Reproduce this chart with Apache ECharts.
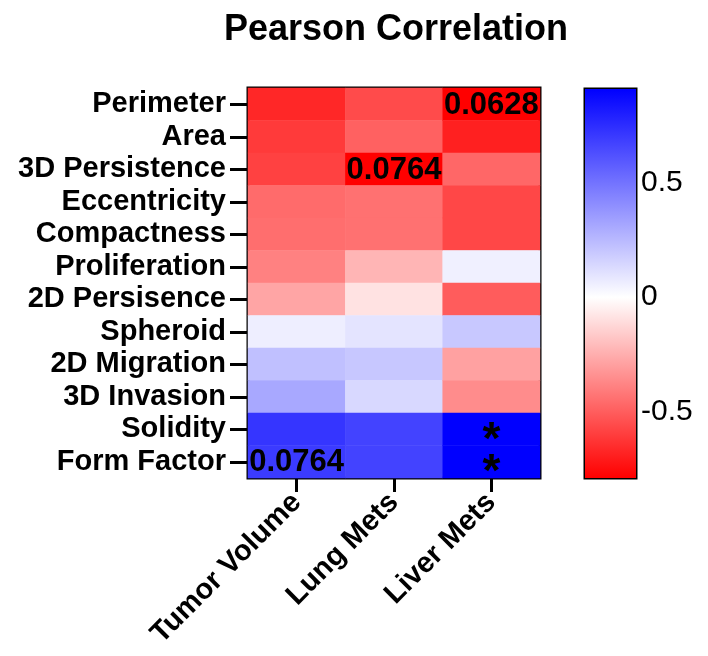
<!DOCTYPE html>
<html>
<head>
<meta charset="utf-8">
<script src="https://cdn.jsdelivr.net/npm/echarts@6/dist/echarts.min.js"></script>
<style>html,body{margin:0;padding:0;background:#fff}#c{width:708px;height:656px}</style>
</head>
<body>
<div id="c"></div>
<script>
// ---- data ----
const columns = ['Tumor Volume', 'Lung Mets', 'Liver Mets'];
const rows = ['Perimeter', 'Area', '3D Persistence', 'Eccentricity', 'Compactness', 'Proliferation',
  '2D Persisence', 'Spheroid', '2D Migration', '3D Invasion', 'Solidity', 'Form Factor'];
const tumorVolume = [-0.67, -0.61, -0.59, -0.46, -0.45, -0.39, -0.28, 0.06, 0.225, 0.31, 0.72, 0.70];
const lungMets    = [-0.555, -0.49, -0.79, -0.44, -0.44, -0.23, -0.09, 0.096, 0.20, 0.14, 0.67, 0.67];
const liverMets   = [-0.79, -0.69, -0.47, -0.57, -0.57, 0.054, -0.505, 0.196, -0.29, -0.356, 0.91, 0.91];
const annotations = [
  { col: 2, row: 0, text: '0.0628' },
  { col: 1, row: 2, text: '0.0764' },
  { col: 0, row: 11, text: '0.0764' },
  { col: 2, row: 10, text: '*' },
  { col: 2, row: 11, text: '*' }
];
const colorMin = -0.79, colorMax = 0.91;
const colorbarTicks = [-0.5, 0, 0.5];

// ---- build ----
const FONT = '"Liberation Sans", Arial, Helvetica, sans-serif';
function colorAt(v) {
  let r, g, b;
  if (v < 0) { const t = Math.min(1, -v / -colorMin); r = 255; g = b = Math.round(255 * (1 - t)); }
  else { const t = Math.min(1, v / colorMax); r = g = Math.round(255 * (1 - t)); b = 255; }
  return 'rgb(' + r + ',' + g + ',' + b + ')';
}
const stops = [];
const nStops = Math.round((colorMax - colorMin) / 0.01);
for (let i = 0; i <= nStops; i++) stops.push(colorAt(colorMin + (colorMax - colorMin) * i / nStops));

const cols = [tumorVolume, lungMets, liverMets];
const heatData = [];
cols.forEach((arr, c) => arr.forEach((v, r) => {
  const ann = annotations.find(a => a.col === c && a.row === r);
  const item = { value: [c, r, v] };
  if (ann) {
    const star = ann.text === '*';
    item.label = {
      show: true, formatter: ann.text, color: '#000', fontFamily: FONT, fontWeight: 'bold',
      fontSize: star ? 46 : 31, offset: star ? [0, 12] : [0, 1]
    };
  }
  heatData.push(item);
}));

const chart = echarts.init(document.getElementById('c'), null, { renderer: 'canvas' });
chart.setOption({
  animation: false,
  backgroundColor: '#fff',
  title: {
    text: 'Pearson Correlation', left: 219, top: 7,
    textStyle: { fontFamily: FONT, fontWeight: 'bold', fontSize: 36, color: '#000' }
  },
  grid: [
    { left: 248, top: 88, width: 292, height: 390, show: true, borderColor: '#000', borderWidth: 3, backgroundColor: 'transparent' },
    { left: 585, top: 89, width: 51, height: 389, show: true, borderColor: '#000', borderWidth: 3, backgroundColor: 'transparent' }
  ],
  xAxis: [
    {
      type: 'category', data: columns, gridIndex: 0, position: 'bottom',
      axisLine: { show: false },
      axisTick: { show: true, alignWithLabel: true, length: 14, lineStyle: { color: '#000', width: 3 } },
      axisLabel: { rotate: 45, margin: 20, color: '#000', fontFamily: FONT, fontWeight: 'bold', fontSize: 29, interval: 0 },
      splitLine: { show: false }
    },
    { type: 'category', data: [''], gridIndex: 1, show: false }
  ],
  yAxis: [
    {
      type: 'category', data: rows, gridIndex: 0, inverse: true,
      axisLine: { show: false },
      axisTick: { show: true, alignWithLabel: true, length: 18, lineStyle: { color: '#000', width: 3 } },
      axisLabel: { margin: 22, color: '#000', fontFamily: FONT, fontWeight: 'bold', fontSize: 29, interval: 0 },
      splitLine: { show: false }
    },
    {
      type: 'value', gridIndex: 1, position: 'left', min: colorMin, max: colorMax,
      axisLine: { show: false },
      axisTick: { show: true, inside: true, length: 6, customValues: colorbarTicks, lineStyle: { color: '#000', width: 3 } },
      axisLabel: { show: false },
      splitLine: { show: false }
    },
    {
      type: 'value', gridIndex: 1, position: 'right', min: colorMin, max: colorMax,
      axisLine: { show: false },
      axisTick: { show: true, inside: true, length: 6, customValues: colorbarTicks, lineStyle: { color: '#000', width: 3 } },
      axisLabel: { show: true, margin: 5, customValues: colorbarTicks, color: '#000', fontFamily: FONT, fontSize: 30,
        formatter: v => String(v) },
      splitLine: { show: false }
    }
  ],
  visualMap: {
    show: false, type: 'continuous', min: colorMin, max: colorMax, seriesIndex: 0, dimension: 2,
    inRange: { color: stops }
  },
  series: [
    {
      type: 'heatmap', xAxisIndex: 0, yAxisIndex: 0, data: heatData,
      label: { show: false },
      itemStyle: { borderWidth: 0 },
      emphasis: { disabled: true }
    },
    {
      type: 'custom', xAxisIndex: 1, yAxisIndex: 1, data: [[0]], z: 1,
      renderItem: function (params, api) {
        const top = api.coord([0, colorMax]);
        const bot = api.coord([0, colorMin]);
        const w = api.size([1, 0])[0];
        const zeroOff = colorMax / (colorMax - colorMin);
        return {
          type: 'rect',
          shape: { x: top[0] - w / 2, y: top[1], width: w, height: bot[1] - top[1] },
          style: {
            fill: new echarts.graphic.LinearGradient(0, 0, 0, 1, [
              { offset: 0, color: colorAt(colorMax) },
              { offset: zeroOff, color: '#ffffff' },
              { offset: 1, color: colorAt(colorMin) }
            ])
          }
        };
      }
    }
  ]
});
</script>
</body>
</html>
